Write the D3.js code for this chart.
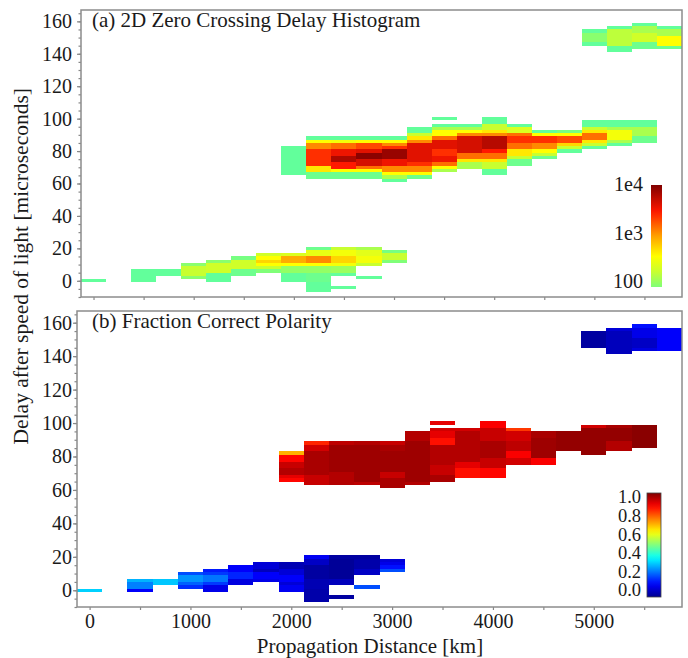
<!DOCTYPE html>
<html>
<head>
<meta charset="utf-8">
<script src="https://cdn.jsdelivr.net/npm/d3@7"></script>
<style>
  body { margin: 0; background: #fff; }
  text { font-family: "Liberation Serif", "Times New Roman", serif; fill: #1a1a1a; }
</style>
</head>
<body>
<div id="chart"></div>
<script>
// distance bins are 250 km wide (centred on the value), delay bins 2 us
const binWidthKm = 250;
const distanceTicks = [0, 1000, 2000, 3000, 4000, 5000];
const delayTicks = [0, 20, 40, 60, 80, 100, 120, 140, 160];
const countBarTicks = [100, 1000, 10000];
const countBarLabels = ["100", "1e3", "1e4"];
const fractionBarTicks = [0, 0.2, 0.4, 0.6, 0.8, 1.0];
const fractionBarLabels = ["0.0", "0.2", "0.4", "0.6", "0.8", "1.0"];

// (a) [distance km, delay low, delay high, count]
const countCells = [
  [0, -1, 1, 70],
  [500, -1, 7, 70],
  [750, 3, 7, 70],
  [1000, 9, 11, 110], [1000, 3, 9, 200], [1000, 1, 3, 110],
  [1250, 11, 13, 110], [1250, 5, 11, 220], [1250, -1, 5, 70],
  [1500, 13, 15, 90], [1500, 7, 13, 220], [1500, 3, 7, 80],
  [1750, 15, 17, 220], [1750, 13, 15, 400], [1750, 11, 13, 600], [1750, 9, 11, 400], [1750, 7, 9, 200], [1750, 5, 7, 100],
  [2000, 15, 17, 250], [2000, 11, 15, 900], [2000, 9, 11, 400], [2000, 5, 9, 120], [2000, -1, 5, 70],
  [2250, 19, 21, 80], [2250, 15, 19, 300], [2250, 11, 15, 1200], [2250, 9, 11, 400], [2250, 5, 9, 120], [2250, -1, 5, 80], [2250, -7, -1, 70],
  [2500, 19, 21, 200], [2500, 15, 19, 350], [2500, 11, 15, 600], [2500, 9, 11, 350], [2500, 5, 9, 130], [2500, 3, 5, 70], [2500, -5, -3, 70],
  [2750, 19, 21, 150], [2750, 15, 19, 280], [2750, 11, 15, 350], [2750, 9, 11, 200], [2750, 1, 3, 70],
  [3000, 17, 19, 90], [3000, 13, 17, 200], [3000, 11, 13, 100],

  [2000, 65, 83, 70],
  [2250, 87, 89, 70], [2250, 85, 87, 400], [2250, 81, 85, 1200], [2250, 71, 81, 2500], [2250, 67, 71, 500], [2250, 63, 67, 80],
  [2500, 87, 89, 70], [2500, 85, 87, 350], [2500, 81, 85, 1500], [2500, 77, 81, 3500], [2500, 73, 77, 6500], [2500, 69, 73, 3000], [2500, 67, 69, 400], [2500, 63, 67, 80],
  [2750, 87, 89, 70], [2750, 85, 87, 400], [2750, 81, 85, 2000], [2750, 79, 81, 4000], [2750, 75, 79, 9000], [2750, 71, 75, 4500], [2750, 69, 71, 1500], [2750, 67, 69, 400], [2750, 63, 67, 80],
  [3000, 87, 89, 70], [3000, 85, 87, 400], [3000, 83, 85, 1200], [3000, 81, 83, 2500], [3000, 75, 81, 8000], [3000, 71, 75, 3500], [3000, 67, 71, 1200], [3000, 65, 67, 400], [3000, 63, 65, 150], [3000, 61, 63, 70],
  [3250, 91, 95, 70], [3250, 89, 91, 200], [3250, 87, 89, 500], [3250, 85, 87, 1200], [3250, 73, 85, 4000], [3250, 71, 73, 2500], [3250, 67, 71, 1200], [3250, 65, 67, 400], [3250, 63, 65, 80],
  [3500, 99, 101, 70], [3500, 95, 97, 70], [3500, 93, 95, 150], [3500, 89, 93, 400], [3500, 87, 89, 1500], [3500, 81, 87, 4000], [3500, 77, 81, 2500], [3500, 73, 77, 3500], [3500, 71, 73, 1500], [3500, 69, 71, 400], [3500, 67, 69, 150],
  [3750, 95, 97, 70], [3750, 93, 95, 150], [3750, 91, 93, 400], [3750, 89, 91, 1200], [3750, 79, 89, 4500], [3750, 75, 79, 1500], [3750, 73, 75, 500], [3750, 69, 73, 150],
  [4000, 97, 101, 70], [4000, 93, 97, 200], [4000, 91, 93, 500], [4000, 89, 91, 1200], [4000, 81, 89, 6000], [4000, 79, 81, 3000], [4000, 75, 79, 1500], [4000, 73, 75, 500], [4000, 69, 73, 200], [4000, 65, 69, 70],
  [4250, 95, 97, 70], [4250, 91, 95, 250], [4250, 89, 91, 1500], [4250, 85, 89, 2500], [4250, 81, 85, 1500], [4250, 77, 81, 500], [4250, 75, 77, 200], [4250, 71, 75, 80],
  [4500, 91, 93, 70], [4500, 89, 91, 400], [4500, 85, 89, 2500], [4500, 81, 85, 1200], [4500, 79, 81, 400], [4500, 77, 79, 200], [4500, 75, 77, 80],
  [4750, 91, 93, 90], [4750, 89, 91, 400], [4750, 85, 89, 2000], [4750, 83, 85, 600], [4750, 81, 83, 200], [4750, 79, 81, 70],
  [5000, 95, 99, 70], [5000, 93, 95, 200], [5000, 91, 93, 500], [5000, 87, 91, 1500], [5000, 85, 87, 500], [5000, 83, 85, 200], [5000, 81, 83, 70],
  [5250, 95, 99, 70], [5250, 93, 95, 150], [5250, 87, 93, 350], [5250, 85, 87, 150], [5250, 83, 85, 70],
  [5500, 95, 99, 70], [5500, 89, 95, 150], [5500, 85, 89, 80],

  [5000, 153, 155, 70], [5000, 147, 153, 110], [5000, 145, 147, 70],
  [5250, 155, 157, 70], [5250, 145, 155, 180], [5250, 141, 145, 70],
  [5500, 157, 159, 70], [5500, 153, 157, 150], [5500, 147, 153, 220], [5500, 143, 147, 80],
  [5750, 155, 157, 70], [5750, 151, 155, 150], [5750, 145, 151, 400], [5750, 143, 145, 80]
];

// (b) [distance km, delay low, delay high, fraction correct]
const fractionCells = [
  [0, -1, 1, 0.33],
  [500, 5, 7, 0.3], [500, 1, 5, 0.25], [500, -1, 1, 0.12],
  [750, 3, 7, 0.32],
  [1000, 9, 11, 0.2], [1000, 5, 9, 0.27], [1000, 3, 5, 0.22], [1000, 1, 3, 0.17],
  [1250, 11, 13, 0.15], [1250, 9, 11, 0.18], [1250, 5, 9, 0.24], [1250, 3, 5, 0.18], [1250, -1, 3, 0.1],
  [1500, 11, 15, 0.12], [1500, 7, 11, 0.16], [1500, 3, 7, 0.09],
  [1750, 13, 17, 0.08], [1750, 11, 13, 0.05], [1750, 7, 11, 0.12], [1750, 5, 7, 0.1],
  [2000, 13, 17, 0.04], [2000, 9, 13, 0.08], [2000, 5, 9, 0.12], [2000, 3, 5, 0.08], [2000, -1, 3, 0.11],
  [2250, 19, 21, 0.11], [2250, 15, 19, 0.06], [2250, 7, 15, 0.02], [2250, 1, 7, 0.04], [2250, -7, 1, 0.03],
  [2500, 19, 21, 0.02], [2500, 7, 19, 0.01], [2500, 3, 7, 0.05], [2500, -5, -3, 0.02],
  [2750, 19, 21, 0.02], [2750, 13, 19, 0.03], [2750, 9, 13, 0.06], [2750, 1, 3, 0.2],
  [3000, 17, 19, 0.08], [3000, 15, 17, 0.1], [3000, 13, 15, 0.14], [3000, 11, 13, 0.2],

  [2000, 81, 83, 0.7], [2000, 77, 81, 0.87], [2000, 73, 77, 0.93], [2000, 69, 73, 0.95], [2000, 67, 69, 0.9], [2000, 65, 67, 0.87],
  [2250, 87, 89, 0.84], [2250, 83, 87, 0.92], [2250, 69, 83, 0.96], [2250, 63, 69, 0.93],
  [2500, 87, 89, 0.94], [2500, 71, 87, 0.97], [2500, 63, 71, 0.95],
  [2750, 87, 89, 0.95], [2750, 65, 87, 0.97], [2750, 63, 65, 0.94],
  [3000, 87, 89, 0.93], [3000, 83, 87, 0.96], [3000, 71, 83, 0.97], [3000, 67, 71, 0.93], [3000, 61, 67, 0.96],
  [3250, 89, 95, 0.95], [3250, 65, 89, 0.97], [3250, 63, 65, 0.95],
  [3500, 99, 101, 0.9], [3500, 95, 97, 0.92], [3500, 91, 95, 0.9], [3500, 87, 91, 0.86], [3500, 75, 87, 0.95], [3500, 69, 75, 0.93], [3500, 65, 69, 0.96],
  [3750, 95, 97, 0.92], [3750, 77, 95, 0.95], [3750, 73, 77, 0.9], [3750, 67, 73, 0.86],
  [4000, 97, 101, 0.88], [4000, 89, 97, 0.93], [4000, 79, 89, 0.96], [4000, 73, 79, 0.93], [4000, 67, 73, 0.87],
  [4250, 95, 97, 0.82], [4250, 89, 95, 0.92], [4250, 83, 89, 0.94], [4250, 79, 83, 0.88], [4250, 75, 79, 0.92],
  [4500, 91, 95, 0.96], [4500, 79, 91, 0.97], [4500, 75, 79, 0.88],
  [4750, 83, 95, 0.98],
  [5000, 97, 99, 0.92], [5000, 81, 97, 0.98],
  [5250, 97, 99, 0.96], [5250, 89, 97, 0.98], [5250, 83, 89, 0.95],
  [5500, 85, 99, 0.99],

  [5000, 145, 155, 0.02],
  [5250, 155, 157, 0.08], [5250, 141, 155, 0.05],
  [5500, 157, 159, 0.14], [5500, 151, 157, 0.1], [5500, 145, 151, 0.06], [5500, 143, 145, 0.09],
  [5750, 155, 157, 0.12], [5750, 143, 155, 0.12]
];

var width = 688, height = 658;
var svg = d3.select("#chart").append("svg")
  .attr("width", width)
  .attr("height", height);

var countColor = d3.scaleLog()
  .domain([60, 100, 200, 400, 1000, 3000, 10000])
  .range(["#55ffaa", "#80ff78", "#c8ff30", "#ffff00", "#ffa000", "#ff1800", "#800000"])
  .clamp(true);

var fractionColor = d3.scaleLinear()
  .domain([0, 0.125, 0.375, 0.625, 0.875, 1])
  .range(["#00008f", "#0000ff", "#00ffff", "#ffff00", "#ff0000", "#800000"])
  .clamp(true);

var panels = [
  { cells: countCells, color: countColor, left: 81, top: 10, bottom: 297,
    title: "(a) 2D Zero Crossing Delay Histogram", xLabels: false },
  { cells: fractionCells, color: fractionColor, left: 77, top: 311, bottom: 607,
    title: "(b) Fraction Correct Polarity", xLabels: true }
];
var right = 682;

panels.forEach(function(p) {
  var x = d3.scaleLinear().domain([-125, 5875]).range([p.left, right]);
  var y = d3.scaleLinear().domain([-10, 167]).range([p.bottom, p.top]);

  // heatmap cells
  svg.append("g").selectAll("rect")
    .data(p.cells)
    .enter()
    .append("rect")
    .attr("x", function(d) { return x(d[0] - binWidthKm / 2); })
    .attr("width", function(d) { return x(d[0] + binWidthKm / 2) - x(d[0] - binWidthKm / 2); })
    .attr("y", function(d) { return y(d[2]); })
    .attr("height", function(d) { return y(d[1]) - y(d[2]); })
    .attr("fill", function(d) { return p.color(d[3]); })
    .attr("shape-rendering", "crispEdges");

  // y axis: labelled every 20, minor every 5
  var yAxis = svg.append("g")
    .attr("transform", "translate(" + p.left + ",0)")
    .call(d3.axisLeft(y).tickValues(delayTicks).tickSize(4).tickPadding(p.left - 76));
  var yMinor = svg.append("g")
    .attr("transform", "translate(" + p.left + ",0)")
    .call(d3.axisLeft(y).tickValues(d3.range(-10, 167, 5)).tickSize(2.5).tickFormat(""));

  // x axis ticks every 500 km
  var xAxis = svg.append("g")
    .attr("transform", "translate(0," + p.bottom + ")")
    .call(d3.axisBottom(x)
      .tickValues(d3.range(0, 5876, 500))
      .tickSize(3)
      .tickPadding(4)
      .tickFormat(function(d) { return p.xLabels && distanceTicks.indexOf(d) >= 0 ? String(d) : ""; }));

  [yAxis, yMinor, xAxis].forEach(function(g) {
    g.select(".domain").remove();
    g.selectAll("line").attr("stroke", "#888").attr("stroke-width", 1.2);
    g.selectAll("text").attr("font-size", 20).attr("font-family", "Liberation Serif, serif").attr("fill", "#1a1a1a");
  });

  // frame
  svg.append("rect")
    .attr("x", p.left)
    .attr("y", p.top)
    .attr("width", right - p.left)
    .attr("height", p.bottom - p.top)
    .attr("fill", "none")
    .attr("stroke", "#8c8c8c")
    .attr("stroke-width", 1.5);

  svg.append("text")
    .attr("x", 92)
    .attr("y", p.top + 17)
    .attr("font-size", 21)
    .text(p.title);
});

// colour bar (a), log scale
var defs = svg.append("defs");
var gradA = defs.append("linearGradient").attr("id", "gradA")
  .attr("x1", 0).attr("y1", 1).attr("x2", 0).attr("y2", 0);
d3.range(0, 1.0001, 0.05).forEach(function(t) {
  gradA.append("stop").attr("offset", t).attr("stop-color", countColor(Math.pow(10, 2 + 2 * t)));
});
svg.append("rect")
  .attr("x", 651).attr("y", 185).attr("width", 11).attr("height", 102)
  .attr("fill", "url(#gradA)");
var barA = d3.scaleLog().domain([100, 10000]).range([281, 184]);
svg.append("g").selectAll("text")
  .data(countBarTicks)
  .enter()
  .append("text")
  .attr("x", 643)
  .attr("y", function(d) { return barA(d); })
  .attr("dy", "0.35em")
  .attr("text-anchor", "end")
  .attr("font-size", 20)
  .text(function(d, i) { return countBarLabels[i]; });

// colour bar (b), jet
var gradB = defs.append("linearGradient").attr("id", "gradB")
  .attr("x1", 0).attr("y1", 1).attr("x2", 0).attr("y2", 0);
d3.range(0, 1.0001, 0.05).forEach(function(t) {
  gradB.append("stop").attr("offset", t).attr("stop-color", fractionColor(t));
});
svg.append("rect")
  .attr("x", 647).attr("y", 493).attr("width", 14).attr("height", 104)
  .attr("fill", "url(#gradB)")
  .attr("stroke", "#444")
  .attr("stroke-width", 0.8);
var barB = d3.scaleLinear().domain([0, 1]).range([590, 497]);
svg.append("g").selectAll("text")
  .data(fractionBarTicks)
  .enter()
  .append("text")
  .attr("x", 641)
  .attr("y", function(d) { return barB(d); })
  .attr("dy", "0.35em")
  .attr("text-anchor", "end")
  .attr("font-size", 18.5)
  .text(function(d, i) { return fractionBarLabels[i]; });

// axis titles
svg.append("text")
  .attr("transform", "translate(28,88) rotate(-90)")
  .attr("text-anchor", "end")
  .attr("font-size", 21.5)
  .text("Delay after speed of light [microseconds]");

svg.append("text")
  .attr("x", 370)
  .attr("y", 653)
  .attr("text-anchor", "middle")
  .attr("font-size", 21)
  .text("Propagation Distance [km]");
</script>
</body>
</html>
